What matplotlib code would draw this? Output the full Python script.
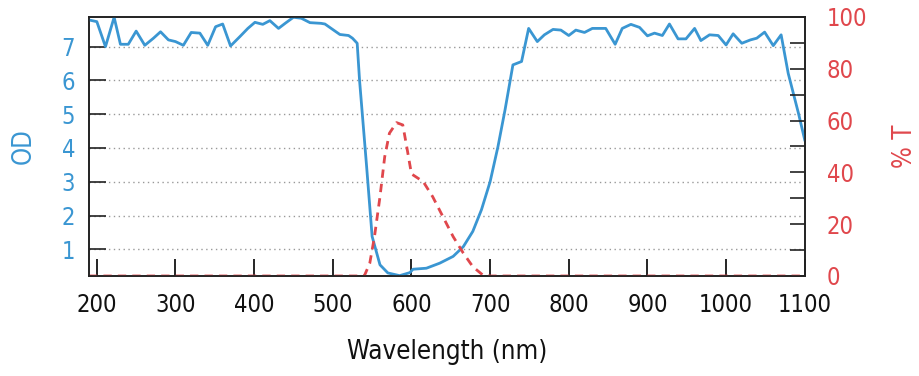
import matplotlib
matplotlib.use("Agg")
import matplotlib.pyplot as plt
from matplotlib.ticker import MultipleLocator

plt.rcParams['font.family'] = ['DejaVu Sans']
plt.rcParams['font.stretch'] = 'condensed'

# OD curve (left axis)
od_wl = [190, 200, 211, 222, 230, 240, 250, 261, 272, 281, 291, 300, 310, 320, 331,
         341, 351, 360, 370, 382, 392, 401, 411, 420, 431, 440, 450, 460, 471, 485,
         490, 501, 509, 520, 525, 531, 534, 543, 550, 560, 570, 585, 598, 602, 619,
         636, 653, 666, 678, 689, 700, 710, 719, 729, 740, 749, 760, 769, 780, 790,
         800, 809, 820, 830, 840, 847, 859, 868, 879, 890, 900, 909, 919, 928, 939,
         949, 960, 968, 979, 990, 1000, 1009, 1020, 1031, 1039, 1049, 1060, 1070,
         1079, 1092, 1100]
od_val = [7.79, 7.74, 7.00, 7.87, 7.07, 7.07, 7.46, 7.04, 7.25, 7.44, 7.20, 7.15, 7.04,
          7.42, 7.40, 7.04, 7.59, 7.67, 7.02, 7.30, 7.54, 7.72, 7.66, 7.77, 7.54, 7.70,
          7.87, 7.84, 7.71, 7.69, 7.67, 7.49, 7.36, 7.33, 7.25, 7.10, 6.01, 3.45, 1.38,
          0.54, 0.30, 0.22, 0.31, 0.41, 0.44, 0.59, 0.79, 1.08, 1.53, 2.17, 3.00, 4.04,
          5.13, 6.46, 6.56, 7.54, 7.15, 7.35, 7.51, 7.49, 7.33, 7.49, 7.42, 7.54, 7.54,
          7.54, 7.07, 7.54, 7.66, 7.57, 7.32, 7.40, 7.33, 7.67, 7.23, 7.23, 7.54, 7.18,
          7.35, 7.33, 7.05, 7.38, 7.10, 7.20, 7.25, 7.43, 7.03, 7.35, 6.21, 5.03, 4.24]

# transmission curve (right axis)
t_wl = [190, 540, 547, 553, 560, 566, 572, 581, 589, 594, 600, 615, 627, 640, 653,
        666, 678, 691, 700, 1100]
t_val = [0, 0, 4.9, 15.2, 30.6, 46.0, 55.1, 59.2, 58.3, 49.9, 39.4, 36.4, 30.6, 22.9,
         15.2, 8.8, 3.6, 0.3, 0, 0]

x_ticks = [200, 300, 400, 500, 600, 700, 800, 900, 1000, 1100]
od_ticks = [1, 2, 3, 4, 5, 6, 7]
t_ticks = [0, 20, 40, 60, 80, 100]

blue = '#3a96d2'
red = '#e0474c'
fs = 17

fig = plt.figure(figsize=(9.2, 3.76), dpi=100)
ax = fig.add_axes([0.0967, 0.266, 0.778, 0.689])
ax2 = ax.twinx()

ax.plot(od_wl, od_val, color=blue, lw=2, zorder=3)
ax2.plot(t_wl, t_val, color=red, lw=2, linestyle=(0, (3, 2.2)), zorder=2)

ax.set_xlim(190, 1100)
ax.set_ylim(0.21, 7.88)
ax2.set_ylim(0, 100)

ax.set_xticks(x_ticks)
ax.set_yticks(od_ticks)
ax2.set_yticks(t_ticks)
ax2.yaxis.set_minor_locator(MultipleLocator(10))

ax.yaxis.grid(True, linestyle=(0, (1, 2.5)), color='#999999', lw=1)
ax.set_axisbelow(True)

ax.tick_params(axis='x', direction='in', length=12, width=1.2, colors='black',
               labelsize=fs, pad=12, labelcolor='#111111')
ax.tick_params(axis='y', direction='in', length=12, width=1.2, colors='#222222',
               labelsize=fs, labelcolor=blue, pad=10)
ax2.tick_params(axis='y', which='both', direction='in', length=11, width=1.2,
                colors='#222222', labelsize=fs, labelcolor=red, pad=16)
ax2.tick_params(axis='y', which='minor', length=11)

for a in (ax, ax2):
    for s in a.spines.values():
        s.set_linewidth(1.2)
        s.set_color('#222222')

ax.set_xlabel('Wavelength (nm)', fontsize=18.5, color='#111111', labelpad=16)
ax.set_ylabel('OD', fontsize=18.5, color=blue, labelpad=18)
ax2.set_ylabel('% T', fontsize=18.5, color=red, labelpad=18)

fig.savefig('out.png', dpi=100, facecolor='white')
